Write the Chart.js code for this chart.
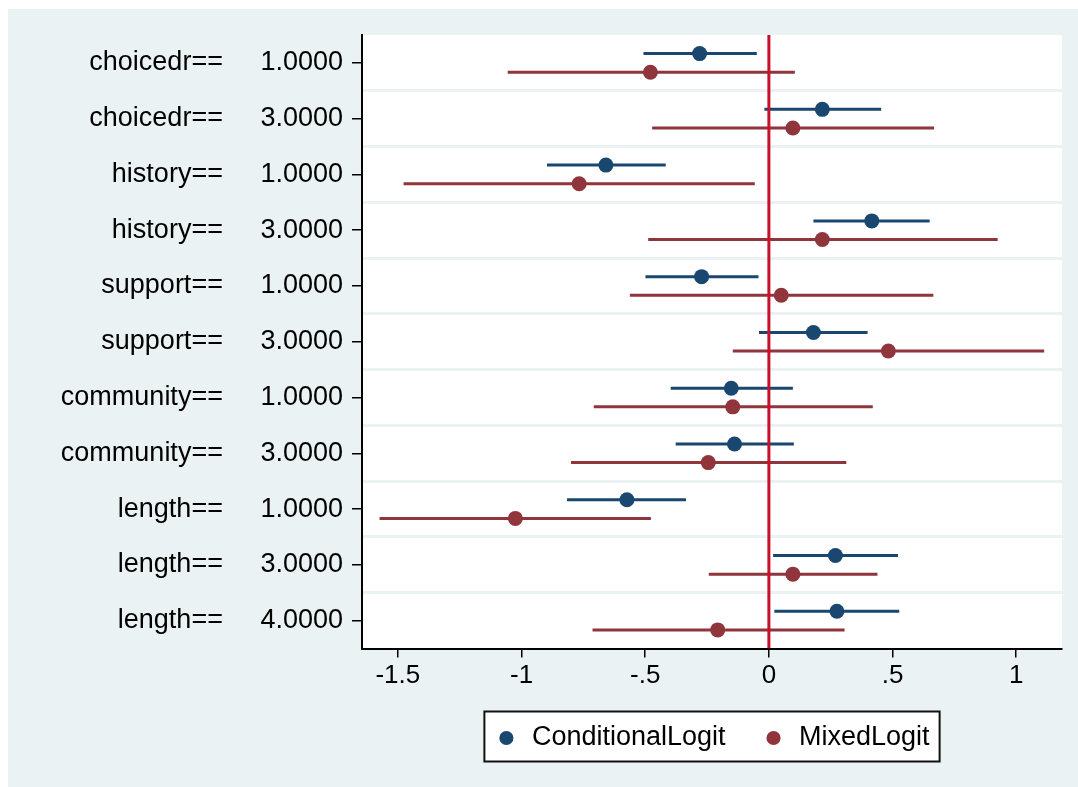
<!DOCTYPE html>
<html>
<head>
<meta charset="utf-8">
<script src="https://cdn.jsdelivr.net/npm/chart.js@4.4.1/dist/chart.umd.min.js"></script>
<style>
  body { margin: 0; background: #fff; }
  #wrap { position: absolute; left: 8px; top: 9px; width: 1070px; height: 778px; background: #eaf2f3; }
</style>
</head>
<body>
<div id="wrap"><canvas id="graficoCoef" width="1070" height="778"></canvas></div>
<script>
// Variabili (etichette asse y) e livelli
const variabili = ['choicedr==', 'choicedr==', 'history==', 'history==', 'support==', 'support==',
                   'community==', 'community==', 'length==', 'length==', 'length=='];
const livelli = ['1.0000', '3.0000', '1.0000', '3.0000', '1.0000', '3.0000',
                 '1.0000', '3.0000', '1.0000', '3.0000', '4.0000'];

// ConditionalLogit: coefficiente e intervallo di confidenza
const clCoef = [-0.280, 0.216, -0.659, 0.416, -0.272, 0.180, -0.152, -0.139, -0.574, 0.269, 0.275];
const clLow  = [-0.507, -0.018, -0.897, 0.180, -0.499, -0.040, -0.397, -0.377, -0.816, 0.017, 0.022];
const clHigh = [-0.049, 0.454, -0.417, 0.650, -0.042, 0.399, 0.097, 0.101, -0.335, 0.522, 0.527];

// MixedLogit
const mlCoef = [-0.479, 0.097, -0.767, 0.216, 0.050, 0.483, -0.146, -0.245, -1.025, 0.097, -0.207];
const mlLow  = [-1.056, -0.472, -1.477, -0.488, -0.562, -0.146, -0.708, -0.800, -1.574, -0.243, -0.713];
const mlHigh = [0.105, 0.668, -0.057, 0.925, 0.665, 1.113, 0.420, 0.313, -0.477, 0.439, 0.306];

// Tick asse x
const xTicks = [-1.5, -1, -0.5, 0, 0.5, 1];
const xTickLabels = ['-1.5', '-1', '-.5', '0', '.5', '1'];
const lineaZero = 0;

const FONT = "'Liberation Sans', Arial, sans-serif";
const SFONDO = '#eaf2f3';
const BLU = '#1a476f';
const BORDEAUX = '#90353b';
const ROSSO = '#c8102e';
const SPOSTA = 0.167; // spostamento verticale delle due serie

Chart.defaults.font.family = FONT;
Chart.defaults.color = '#000';

const yMin = 0.5;
const yMax = variabili.length + 0.5;

function punti(coef, shift) {
    return coef.map((c, i) => ({ x: c, y: i + 1 + shift }));
}

// segmenti degli intervalli, separati da punti nulli
function segmenti(low, high, shift) {
    const pts = [];
    low.forEach((l, i) => {
        pts.push({ x: l, y: i + 1 + shift }, { x: high[i], y: i + 1 + shift }, { x: null, y: null });
    });
    return pts;
}

// sfondo bianco area grafico + riquadro legenda
const sfondi = {
    id: 'sfondi',
    beforeDraw(chart) {
        const { ctx, chartArea: a } = chart;
        ctx.save();
        ctx.fillStyle = '#fff';
        ctx.fillRect(a.left, a.top, a.right - a.left, a.bottom - a.top);
        const box = riquadroLegenda(chart);
        if (box) ctx.fillRect(box.x, box.y, box.w, box.h);
        ctx.restore();
    },
    afterDraw(chart) {
        const box = riquadroLegenda(chart);
        if (!box) return;
        const ctx = chart.ctx;
        ctx.save();
        ctx.strokeStyle = '#111';
        ctx.lineWidth = 2;
        ctx.strokeRect(box.x, box.y, box.w, box.h);
        ctx.restore();
    }
};

function riquadroLegenda(chart) {
    const hb = chart.legend && chart.legend.legendHitBoxes;
    if (!hb || !hb.length) return null;
    const left = Math.min(...hb.map(h => h.left)) - 10;
    const right = Math.max(...hb.map(h => h.left + h.width)) + 10;
    const cy = hb[0].top + 13;
    return { x: left, y: cy - 26, w: right - left, h: 50 };
}

new Chart(document.getElementById('graficoCoef'), {
    type: 'scatter',
    data: {
        datasets: [
            {
                label: 'zero',
                data: [{ x: lineaZero, y: yMin }, { x: lineaZero, y: yMax }],
                showLine: true,
                borderColor: ROSSO,
                borderWidth: 3,
                pointRadius: 0
            },
            {
                label: 'ConditionalLogit',
                data: punti(clCoef, -SPOSTA),
                backgroundColor: BLU,
                borderColor: BLU,
                borderWidth: 0,
                pointRadius: 7.5
            },
            {
                label: 'MixedLogit',
                data: punti(mlCoef, SPOSTA),
                backgroundColor: BORDEAUX,
                borderColor: BORDEAUX,
                borderWidth: 0,
                pointRadius: 7.5
            },
            {
                label: 'ci_cl',
                data: segmenti(clLow, clHigh, -SPOSTA),
                showLine: true,
                spanGaps: false,
                borderColor: BLU,
                borderWidth: 3,
                pointRadius: 0
            },
            {
                label: 'ci_ml',
                data: segmenti(mlLow, mlHigh, SPOSTA),
                showLine: true,
                spanGaps: false,
                borderColor: BORDEAUX,
                borderWidth: 3,
                pointRadius: 0
            }
        ]
    },
    options: {
        responsive: false,
        animation: false,
        events: [],
        layout: { padding: { top: 26, right: 16, bottom: 25.5, left: 0 } },
        scales: {
            x: {
                type: 'linear',
                min: -1.645,
                max: 1.185,
                afterBuildTicks: s => { s.ticks = xTicks.map(v => ({ value: v })); },
                afterFit: s => { s.height = 40; },
                ticks: {
                    callback: (v, i) => xTickLabels[i],
                    autoSkip: false,
                    maxRotation: 0,
                    padding: 3,
                    font: { size: 26 },
                    color: '#000'
                },
                grid: { drawOnChartArea: false, color: '#000', tickLength: 9, lineWidth: 1.5 },
                border: { color: '#000', width: 2 }
            },
            y: {
                type: 'linear',
                reverse: true,
                min: yMin,
                max: yMax,
                afterBuildTicks: s => { s.ticks = variabili.map((_, i) => ({ value: i + 1 })); },
                afterFit: s => { s.width = 354; },
                ticks: {
                    callback: (v, i) => variabili[i] + '     ' + livelli[i],
                    autoSkip: false,
                    padding: 9,
                    font: { size: 27 },
                    color: '#000'
                },
                grid: { drawOnChartArea: false, color: '#000', tickLength: 10, lineWidth: 1.5 },
                border: { color: '#000', width: 2 }
            },
            // linee di separazione tra le categorie
            ySep: {
                type: 'linear',
                position: 'right',
                reverse: true,
                min: yMin,
                max: yMax,
                afterBuildTicks: s => { s.ticks = variabili.slice(1).map((_, i) => ({ value: i + 1.5 })); },
                afterFit: s => { s.width = 0; },
                ticks: { display: false },
                grid: { color: SFONDO, lineWidth: 3, drawTicks: false },
                border: { display: false }
            }
        },
        plugins: {
            tooltip: { enabled: false },
            legend: {
                position: 'bottom',
                fullSize: false,
                labels: {
                    filter: item => item.datasetIndex === 1 || item.datasetIndex === 2,
                    usePointStyle: true,
                    pointStyle: 'circle',
                    boxWidth: 24,
                    boxHeight: 10,
                    padding: 36,
                    color: '#000',
                    font: { size: 27 }
                }
            }
        }
    },
    plugins: [sfondi]
});
</script>
</body>
</html>
